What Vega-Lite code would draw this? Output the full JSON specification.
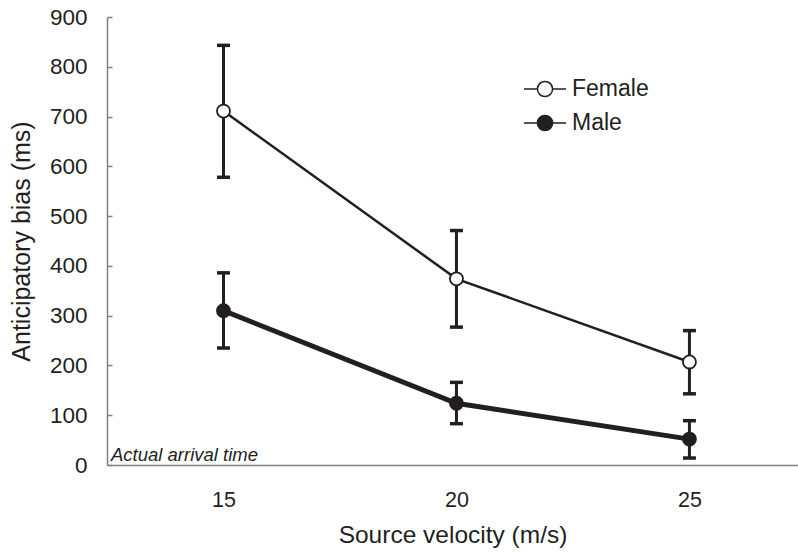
{
  "$schema": "https://vega.github.io/schema/vega-lite/v6.json",
  "width": 691,
  "height": 448,
  "autosize": "none",
  "padding": {"left": 107, "top": 17, "right": 0, "bottom": 87},
  "background": "white",
  "config": {
    "view": {"stroke": null},
    "font": "Liberation Sans",
    "axis": {"grid": false, "labelFont": "Liberation Sans", "titleFont": "Liberation Sans", "labelColor": "#231f20", "titleColor": "#231f20", "titleFontWeight": "normal", "domainColor": "#808080", "domainWidth": 1.5, "tickColor": "#808080", "tickWidth": 1.5}
  },
  "datasets": {
    "pts": [
      {"v": 15, "sex": "Female", "mean": 711, "lo": 578, "hi": 843},
      {"v": 20, "sex": "Female", "mean": 374, "lo": 277, "hi": 471},
      {"v": 25, "sex": "Female", "mean": 207, "lo": 143, "hi": 270},
      {"v": 15, "sex": "Male", "mean": 310, "lo": 235, "hi": 386},
      {"v": 20, "sex": "Male", "mean": 124, "lo": 83, "hi": 166},
      {"v": 25, "sex": "Male", "mean": 52, "lo": 14, "hi": 89}
    ],
    "note": [{"label": "Actual arrival time", "x": 12.5, "y": 0}]
  },
  "layer": [
    {
      "data": {"name": "pts"},
      "mark": {"type": "errorbar", "color": "#231f20", "ticks": {"size": 13, "thickness": 3.5, "color": "#231f20", "opacity": 1}, "rule": {"strokeWidth": 3, "color": "#231f20"}},
      "encoding": {
        "x": {"field": "v", "type": "quantitative", "scale": {"domain": [12.5, 27.33], "nice": false, "zero": false},
          "axis": {"values": [15, 20, 25], "ticks": false, "labelFontSize": 21.5, "labelPadding": 24, "title": "Source velocity (m/s)", "titleFontSize": 24.5, "titlePadding": 13}},
        "y": {"field": "lo", "type": "quantitative", "scale": {"domain": [0, 900], "nice": false},
          "axis": {"values": [0, 100, 200, 300, 400, 500, 600, 700, 800, 900], "tickSize": -5, "labelFontSize": 22.5, "labelPadding": 25, "title": "Anticipatory bias (ms)", "titleFontSize": 25, "titlePadding": 15}},
        "y2": {"field": "hi"}
      }
    },
    {
      "data": {"name": "pts"},
      "mark": {"type": "line", "color": "#231f20"},
      "encoding": {
        "x": {"field": "v", "type": "quantitative"},
        "y": {"field": "mean", "type": "quantitative"},
        "detail": {"field": "sex"},
        "strokeWidth": {"condition": {"test": "datum.sex === 'Male'", "value": 5}, "value": 2.5}
      }
    },
    {
      "data": {"name": "pts"},
      "mark": {"type": "point", "filled": false, "stroke": "#231f20", "strokeWidth": 1.8, "size": 170, "opacity": 1},
      "encoding": {
        "x": {"field": "v", "type": "quantitative"},
        "y": {"field": "mean", "type": "quantitative"},
        "fill": {"field": "sex", "type": "nominal", "scale": {"domain": ["Female", "Male"], "range": ["white", "#231f20"]},
          "legend": {"title": null, "orient": "none", "legendX": 416, "legendY": 50, "labelFontSize": 23, "labelColor": "#231f20", "labelFont": "Liberation Sans", "labelOffset": 5, "rowPadding": -2, "symbolSize": 1764,
            "symbolType": "M-1,0H-0.36M0.36,0H1M-0.36,0A0.36,0.36 0 1,0 0.36,0A0.36,0.36 0 1,0 -0.36,0Z",
            "encode": {"symbols": {"update": {"shape": {"value": "M-1,0H-0.36M0.36,0H1M-0.36,0A0.36,0.36 0 1,0 0.36,0A0.36,0.36 0 1,0 -0.36,0Z"}, "size": {"value": 1764}, "stroke": {"value": "#231f20"}, "strokeWidth": {"signal": "datum.value === 'Male' ? 4.5 : 2.5"}, "opacity": {"value": 1}}}}}
        }
      }
    },
    {
      "data": {"name": "note"},
      "mark": {"type": "text", "align": "left", "baseline": "alphabetic", "dx": 4, "dy": -4, "fontStyle": "italic", "fontSize": 18.5, "color": "#231f20"},
      "encoding": {
        "x": {"field": "x", "type": "quantitative"},
        "y": {"field": "y", "type": "quantitative"},
        "text": {"field": "label"}
      }
    }
  ]
}
